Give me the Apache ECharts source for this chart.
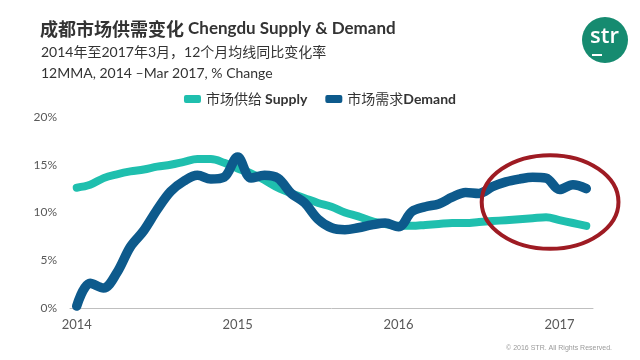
<!DOCTYPE html>
<html>
<head>
<meta charset="utf-8">
<script src="https://cdn.jsdelivr.net/npm/echarts@6/dist/echarts.min.js"></script>
<style>
html,body{margin:0;padding:0;background:#fff;}
#c{width:640px;height:360px;}
</style>
</head>
<body>
<div id="c"></div>
<script>
var months = ['2014-01','2014-02','2014-03','2014-04','2014-05','2014-06','2014-07','2014-08','2014-09','2014-10','2014-11','2014-12',
  '2015-01','2015-02','2015-03','2015-04','2015-05','2015-06','2015-07','2015-08','2015-09','2015-10','2015-11','2015-12',
  '2016-01','2016-02','2016-03','2016-04','2016-05','2016-06','2016-07','2016-08','2016-09','2016-10','2016-11','2016-12',
  '2017-01','2017-02','2017-03'];
var supply = [12.6,12.9,13.6,14.0,14.3,14.5,14.8,15.0,15.3,15.6,15.6,15.2,
  14.6,14.1,13.4,12.6,12.0,11.5,11.0,10.6,10.0,9.6,9.1,8.8,
  8.6,8.6,8.7,8.8,8.9,8.9,9.0,9.1,9.2,9.3,9.4,9.5,
  9.2,8.9,8.6];
var demand = [0.2,2.6,2.1,3.7,6.4,8.1,10.3,12.2,13.3,13.9,13.5,13.7,
  15.8,13.6,13.9,13.6,12.0,11.0,9.3,8.4,8.2,8.4,8.7,8.9,
  8.5,10.1,10.6,10.9,11.6,12.1,12.0,12.7,13.2,13.5,13.7,13.6,
  12.4,12.9,12.5];
var yTicks = ['0%','5%','10%','15%','20%'];
var seriesNames = ['市场供给 Supply','市场需求Demand'];
// highlight ellipse in data units: centre (month index, value), half sizes
var circled = {centerIndex: 35.3, centerValue: 11.1, halfWidthMonths: 5.1, halfHeight: 4.9};

var FONT = "Lato, 'Noto Sans CJK SC', sans-serif";
var chart = echarts.init(document.getElementById('c'));
var option = {
  animation: false,
  backgroundColor: '#ffffff',
  title: [
    {
      left: 35, top: 15,
      text: '{a|成都市场供需变化 }{b|Chengdu Supply & Demand}',
      textStyle: {
        rich: {
          a: {fontFamily: "'Noto Sans CJK SC'", fontSize: 18, color: '#333333'},
          b: {fontFamily: FONT, fontSize: 17, fontWeight: 'bold', color: '#333333'}
        }
      }
    },
    {
      left: 36, top: 40,
      text: '2014年至2017年3月，12个月均线同比变化率',
      textStyle: {fontFamily: FONT, fontSize: 14, fontWeight: 'normal', color: '#333333'}
    },
    {
      left: 36, top: 61,
      text: '12MMA, 2014 –Mar 2017, % Change',
      textStyle: {fontFamily: FONT, fontSize: 14, fontWeight: 'normal', color: '#333333'}
    }
  ],
  legend: {
    top: 87, left: 'center',
    itemWidth: 17, itemHeight: 8, itemGap: 18,
    icon: 'roundRect',
    data: seriesNames,
    formatter: function (n) {
      var i = n.search(/[A-Za-z]/);
      return '{a|' + n.slice(0, i) + '}{b|' + n.slice(i) + '}';
    },
    textStyle: {
      rich: {
        a: {fontFamily: "'Noto Sans CJK SC'", fontSize: 14, color: '#333333'},
        b: {fontFamily: FONT, fontSize: 14, fontWeight: 'bold', color: '#333333'}
      }
    }
  },
  grid: {left: 70, right: 47, top: 117, bottom: 52},
  xAxis: {
    type: 'category',
    data: months,
    boundaryGap: true,
    axisLine: {lineStyle: {color: '#bfbfbf', width: 1}},
    axisTick: {show: false},
    axisLabel: {
      interval: function (i) { return i % 12 === 0; },
      formatter: function (v) { return v.slice(0, 4); },
      fontFamily: FONT, fontSize: 13, color: '#595959', margin: 10
    },
    splitLine: {show: false}
  },
  yAxis: {
    type: 'value', min: 0, max: 20, interval: 5,
    axisLine: {show: false},
    axisTick: {show: false},
    splitLine: {show: false},
    axisLabel: {
      formatter: function (v) { return yTicks[Math.round(v / 5)]; },
      fontFamily: FONT, fontSize: 12, color: '#595959', margin: 13
    }
  },
  series: [
    {
      name: seriesNames[0], type: 'line', data: supply, smooth: 0.35,
      showSymbol: false, clip: false,
      itemStyle: {color: '#1fbfae'},
      lineStyle: {color: '#1fbfae', width: 8, cap: 'round', join: 'round'},
      z: 2
    },
    {
      name: seriesNames[1], type: 'line', data: demand, smooth: 0.35,
      showSymbol: false, clip: false,
      itemStyle: {color: '#0d5a8c'},
      lineStyle: {color: '#0d5a8c', width: 9.5, cap: 'round', join: 'round'},
      z: 3
    }
  ]
};
chart.setOption(option);

var p0 = chart.convertToPixel({gridIndex: 0}, [0, 0]);
var p1 = chart.convertToPixel({gridIndex: 0}, [1, circled.halfHeight]);
var p2 = chart.convertToPixel({gridIndex: 0}, [0, circled.centerValue]);
var stepX = p1[0] - p0[0];
var cx = p0[0] + stepX * circled.centerIndex;
var cy = p2[1];
var rx = stepX * circled.halfWidthMonths;
var ry = p0[1] - p1[1];

chart.setOption({
  graphic: [
    {
      type: 'ellipse', z: 100,
      shape: {cx: cx, cy: cy, rx: rx, ry: ry},
      style: {fill: 'none', stroke: '#9e1b23', lineWidth: 4}
    },
    {
      type: 'circle', z: 100,
      shape: {cx: 605, cy: 40, r: 23},
      style: {fill: '#168b70'}
    },
    {
      type: 'text', z: 101, left: 590, top: 26,
      style: {text: 'str', fill: '#ffffff', font: "600 22px 'Open Sans', sans-serif"}
    },
    {
      type: 'rect', z: 101,
      shape: {x: 592, y: 54, width: 10, height: 2},
      style: {fill: '#ffffff'}
    },
    {
      type: 'text', z: 101, right: 28, top: 345,
      style: {text: '© 2016 STR. All Rights Reserved.', fill: '#9a9a9a', font: "7px 'Liberation Sans', sans-serif"}
    }
  ]
});
</script>
</body>
</html>
